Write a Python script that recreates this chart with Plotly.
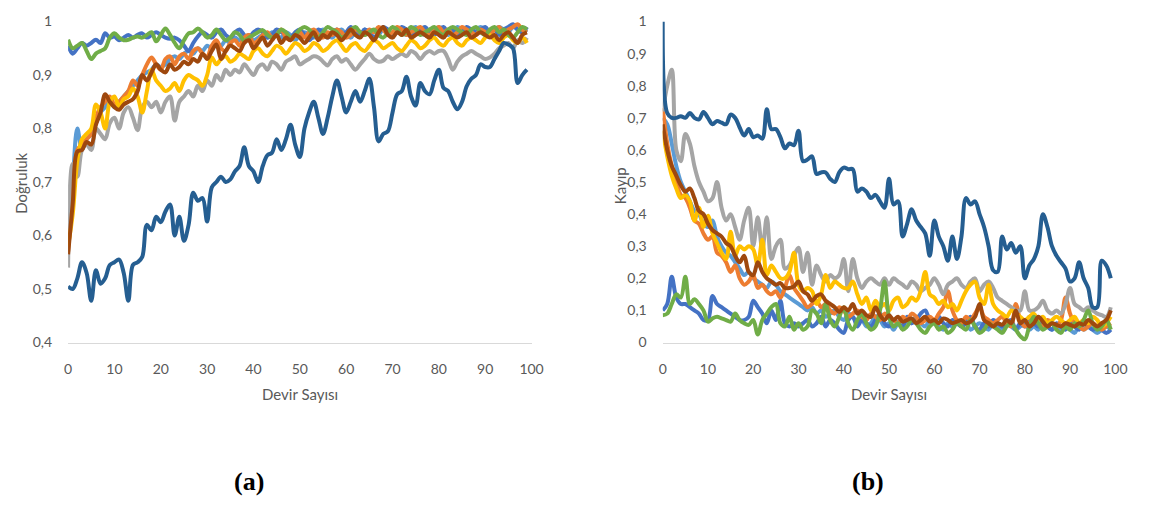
import plotly.graph_objects as go

epochs = list(range(100))

# ---------------- accuracy (Doğruluk) ----------------
acc_blue = [0.955, 0.94, 0.95, 0.96, 0.955, 0.96, 0.966, 0.96, 0.978, 0.97,
            0.972, 0.965, 0.97, 0.975, 0.97, 0.975, 0.978, 0.97, 0.975, 0.98,
            0.975, 0.97, 0.968, 0.97, 0.965, 0.955, 0.945, 0.96, 0.972, 0.98,
            0.975, 0.97, 0.98, 0.985, 0.975, 0.97, 0.98, 0.985, 0.975, 0.97,
            0.98, 0.985, 0.98, 0.97, 0.975, 0.985, 0.98, 0.975, 0.97, 0.98,
            0.985, 0.975, 0.965, 0.975, 0.985, 0.98, 0.97, 0.98, 0.985, 0.975,
            0.98, 0.99, 0.98, 0.975, 0.985, 0.98, 0.97, 0.98, 0.99, 0.985,
            0.975, 0.98, 0.99, 0.985, 0.975, 0.98, 0.985, 0.99, 0.98, 0.975,
            0.985, 0.99, 0.98, 0.985, 0.975, 0.98, 0.99, 0.985, 0.98, 0.985,
            0.99, 0.98, 0.985, 0.975, 0.985, 0.99, 0.995, 0.985, 0.98, 0.99]
acc_orange = [0.57, 0.68, 0.76, 0.77, 0.78, 0.79, 0.82, 0.84, 0.85, 0.86,
              0.845, 0.85, 0.86, 0.87, 0.89, 0.88, 0.90, 0.92, 0.933, 0.92,
              0.91, 0.93, 0.935, 0.92, 0.935, 0.94, 0.93, 0.945, 0.95, 0.94,
              0.935, 0.955, 0.965, 0.95, 0.945, 0.96, 0.965, 0.955, 0.97, 0.975,
              0.96, 0.965, 0.975, 0.98, 0.97, 0.975, 0.985, 0.97, 0.965, 0.975,
              0.98, 0.97, 0.98, 0.985, 0.975, 0.97, 0.98, 0.975, 0.985, 0.98,
              0.97, 0.975, 0.985, 0.98, 0.975, 0.985, 0.98, 0.99, 0.985, 0.975,
              0.98, 0.99, 0.985, 0.975, 0.98, 0.985, 0.99, 0.98, 0.975, 0.985,
              0.99, 0.98, 0.985, 0.975, 0.98, 0.99, 0.985, 0.98, 0.975, 0.985,
              0.98, 0.975, 0.985, 0.99, 0.98, 0.985, 0.99, 0.995, 0.985, 0.98]
acc_gray = [0.54, 0.734, 0.71, 0.76, 0.77, 0.76, 0.80, 0.79, 0.78, 0.81,
            0.82, 0.80, 0.83, 0.84, 0.82, 0.797, 0.84, 0.85, 0.84, 0.85,
            0.83, 0.85, 0.86, 0.815, 0.85, 0.86, 0.87, 0.86, 0.88, 0.87,
            0.89, 0.88, 0.90, 0.89, 0.91, 0.90, 0.91, 0.905, 0.92, 0.91,
            0.90, 0.915, 0.92, 0.91, 0.925, 0.92, 0.91, 0.925, 0.93, 0.935,
            0.92, 0.925, 0.93, 0.935, 0.933, 0.925, 0.918, 0.93, 0.935, 0.925,
            0.93, 0.92, 0.91, 0.92, 0.93, 0.94, 0.93, 0.925, 0.927, 0.935,
            0.93, 0.935, 0.94, 0.935, 0.945, 0.94, 0.93, 0.94, 0.945, 0.94,
            0.945, 0.945, 0.93, 0.91, 0.925, 0.935, 0.94, 0.945, 0.94, 0.935,
            0.93, 0.933, 0.94, 0.95, 0.955, 0.96, 0.95, 0.965, 0.96, 0.97]
acc_yellow = [0.58, 0.64, 0.74, 0.78, 0.79, 0.80, 0.845, 0.83, 0.80, 0.85,
              0.86, 0.84, 0.855, 0.86, 0.875, 0.86, 0.83, 0.87, 0.91, 0.89,
              0.88, 0.87, 0.875, 0.885, 0.87, 0.89, 0.90, 0.895, 0.89, 0.88,
              0.90, 0.933, 0.92, 0.93, 0.935, 0.925, 0.93, 0.94, 0.935, 0.93,
              0.945, 0.95, 0.94, 0.935, 0.945, 0.955, 0.95, 0.94, 0.95, 0.96,
              0.955, 0.945, 0.95, 0.96, 0.955, 0.945, 0.95, 0.96, 0.965, 0.955,
              0.945, 0.955, 0.96, 0.95, 0.945, 0.955, 0.965, 0.96, 0.95, 0.955,
              0.96, 0.95, 0.945, 0.955, 0.965, 0.96, 0.95, 0.955, 0.965, 0.97,
              0.96, 0.955, 0.965, 0.97, 0.96, 0.955, 0.965, 0.97, 0.965, 0.96,
              0.97, 0.975, 0.965, 0.96, 0.97, 0.975, 0.965, 0.96, 0.97, 0.96]
acc_lightblue = [0.58, 0.70, 0.80, 0.76, 0.78, 0.79, 0.81, 0.83, 0.84, 0.85,
                 0.84, 0.85, 0.86, 0.87, 0.88, 0.89, 0.90, 0.905, 0.91, 0.92,
                 0.915, 0.92, 0.93, 0.935, 0.93, 0.94, 0.945, 0.94, 0.95, 0.945,
                 0.955, 0.95, 0.96, 0.955, 0.965, 0.96, 0.97, 0.965, 0.97, 0.975,
                 0.965, 0.97, 0.975, 0.97, 0.98, 0.975, 0.97, 0.98, 0.975, 0.965,
                 0.975, 0.98, 0.975, 0.97, 0.98, 0.985, 0.975, 0.97, 0.98, 0.985,
                 0.975, 0.97, 0.98, 0.975, 0.985, 0.98, 0.97, 0.975, 0.985, 0.98,
                 0.975, 0.985, 0.98, 0.975, 0.985, 0.99, 0.98, 0.975, 0.985, 0.98,
                 0.99, 0.985, 0.975, 0.98, 0.99, 0.985, 0.98, 0.975, 0.985, 0.99,
                 0.985, 0.98, 0.985, 0.99, 0.985, 0.98, 0.99, 0.985, 0.98, 0.985]
acc_green = [0.966, 0.95, 0.955, 0.96, 0.945, 0.93, 0.94, 0.945, 0.95, 0.97,
             0.978, 0.97, 0.965, 0.966, 0.97, 0.972, 0.97, 0.975, 0.98, 0.963,
             0.975, 0.987, 0.975, 0.96, 0.95, 0.965, 0.978, 0.98, 0.987, 0.98,
             0.97, 0.975, 0.985, 0.975, 0.965, 0.97, 0.98, 0.975, 0.964, 0.97,
             0.975, 0.98, 0.984, 0.975, 0.97, 0.975, 0.985, 0.98, 0.97, 0.975,
             0.985, 0.99, 0.985, 0.975, 0.97, 0.98, 0.99, 0.985, 0.98, 0.97,
             0.975, 0.985, 0.99, 0.98, 0.975, 0.98, 0.985, 0.975, 0.97, 0.98,
             0.99, 0.985, 0.975, 0.98, 0.99, 0.985, 0.975, 0.98, 0.985, 0.99,
             0.98, 0.975, 0.985, 0.99, 0.985, 0.98, 0.975, 0.985, 0.99, 0.98,
             0.975, 0.985, 0.99, 0.98, 0.985, 0.975, 0.97, 0.98, 0.99, 0.985]
acc_darkblue = [0.505, 0.50, 0.52, 0.55, 0.53, 0.478, 0.535, 0.51, 0.52, 0.545,
                0.55, 0.555, 0.53, 0.478, 0.545, 0.55, 0.56, 0.62, 0.61, 0.635,
                0.625, 0.645, 0.658, 0.60, 0.635, 0.59, 0.62, 0.68, 0.665, 0.67,
                0.626, 0.69, 0.70, 0.71, 0.70, 0.705, 0.72, 0.73, 0.765, 0.73,
                0.72, 0.70, 0.73, 0.75, 0.755, 0.78, 0.76, 0.78, 0.807, 0.77,
                0.747, 0.80, 0.83, 0.85, 0.82, 0.79, 0.82, 0.86, 0.89, 0.86,
                0.83, 0.85, 0.87, 0.85, 0.87, 0.893, 0.84, 0.776, 0.79, 0.795,
                0.83, 0.864, 0.87, 0.897, 0.86, 0.843, 0.885, 0.87, 0.864, 0.89,
                0.91, 0.876, 0.87, 0.85, 0.836, 0.85, 0.879, 0.893, 0.90, 0.92,
                0.915, 0.915, 0.93, 0.945, 0.96, 0.957, 0.95, 0.885, 0.90, 0.91]
acc_brown = [0.565, 0.66, 0.757, 0.76, 0.775, 0.77, 0.807, 0.83, 0.864, 0.85,
             0.84, 0.835, 0.845, 0.85, 0.855, 0.87, 0.90, 0.89, 0.905, 0.92,
             0.91, 0.905, 0.92, 0.91, 0.915, 0.925, 0.92, 0.93, 0.925, 0.94,
             0.93, 0.945, 0.957, 0.93, 0.945, 0.955, 0.95, 0.945, 0.96, 0.965,
             0.95, 0.96, 0.97, 0.955, 0.965, 0.975, 0.96, 0.97, 0.965, 0.975,
             0.97, 0.96, 0.97, 0.98, 0.965, 0.975, 0.97, 0.98, 0.975, 0.965,
             0.975, 0.985, 0.975, 0.97, 0.98, 0.975, 0.965, 0.98, 0.99, 0.975,
             0.97, 0.98, 0.975, 0.985, 0.97, 0.975, 0.98, 0.975, 0.97, 0.98,
             0.975, 0.97, 0.98, 0.975, 0.97, 0.975, 0.98, 0.97, 0.975, 0.98,
             0.975, 0.97, 0.975, 0.965, 0.975, 0.98, 0.97, 0.96, 0.975, 0.98]

# ---------------- loss (Kayıp) ----------------
loss_blue = [0.10, 0.12, 0.205, 0.14, 0.12, 0.12, 0.11, 0.10, 0.09, 0.07,
             0.07, 0.145, 0.12, 0.11, 0.10, 0.09, 0.08, 0.07, 0.07, 0.08,
             0.13, 0.11, 0.09, 0.06, 0.10, 0.07, 0.13, 0.06, 0.05, 0.06,
             0.05, 0.06, 0.07, 0.05, 0.06, 0.08, 0.05, 0.07, 0.06, 0.04,
             0.03, 0.07, 0.08, 0.05, 0.07, 0.06, 0.05, 0.07, 0.09, 0.06,
             0.05, 0.07, 0.06, 0.05, 0.08, 0.06, 0.07, 0.09, 0.10, 0.07,
             0.06, 0.08, 0.06, 0.05, 0.07, 0.06, 0.05, 0.06, 0.08, 0.05,
             0.04, 0.06, 0.05, 0.07, 0.06, 0.05, 0.06, 0.07, 0.04, 0.06,
             0.05, 0.08, 0.06, 0.05, 0.07, 0.05, 0.04, 0.06, 0.05, 0.04,
             0.06, 0.05, 0.04, 0.06, 0.05, 0.04, 0.05, 0.04, 0.03, 0.04]
loss_orange = [0.73, 0.62, 0.55, 0.50, 0.46, 0.45, 0.42, 0.38, 0.37, 0.34,
               0.32, 0.33, 0.28, 0.27, 0.25, 0.22, 0.24, 0.20, 0.18, 0.19,
               0.21, 0.17, 0.18, 0.16, 0.15, 0.16, 0.14, 0.17, 0.21, 0.17,
               0.15, 0.13, 0.11, 0.12, 0.13, 0.11, 0.12, 0.10, 0.09, 0.11,
               0.10, 0.08, 0.09, 0.10, 0.08, 0.07, 0.09, 0.08, 0.07, 0.09,
               0.08, 0.07, 0.06, 0.08, 0.07, 0.09, 0.08, 0.06, 0.07, 0.08,
               0.07, 0.09, 0.11, 0.16, 0.10, 0.07, 0.06, 0.08, 0.07, 0.09,
               0.11, 0.08, 0.07, 0.06, 0.07, 0.08, 0.06, 0.05, 0.12, 0.07,
               0.05, 0.06, 0.08, 0.06, 0.05, 0.07, 0.06, 0.05, 0.07, 0.14,
               0.09, 0.06, 0.05, 0.04, 0.05, 0.06, 0.05, 0.04, 0.05, 0.06]
loss_gray = [0.72, 0.80, 0.85, 0.60, 0.565, 0.65, 0.62, 0.55, 0.50, 0.47,
             0.44, 0.45, 0.50, 0.42, 0.38, 0.40, 0.36, 0.32, 0.38, 0.42,
             0.30, 0.39, 0.29, 0.39, 0.26, 0.30, 0.32, 0.23, 0.24, 0.27,
             0.295, 0.22, 0.28, 0.18, 0.24, 0.21, 0.19, 0.21, 0.20, 0.21,
             0.26, 0.16, 0.26, 0.20, 0.17, 0.19, 0.20, 0.19, 0.18, 0.20,
             0.18, 0.20, 0.19, 0.18, 0.17, 0.19, 0.18, 0.16, 0.17, 0.18,
             0.20, 0.18, 0.15, 0.18, 0.19, 0.20, 0.18, 0.17, 0.19, 0.20,
             0.16, 0.18, 0.19, 0.17, 0.14, 0.13, 0.12, 0.11, 0.10, 0.10,
             0.16, 0.10, 0.10, 0.11, 0.13, 0.10, 0.09, 0.10, 0.09, 0.12,
             0.17, 0.12, 0.11, 0.10, 0.11, 0.10, 0.09, 0.085, 0.08, 0.11]
loss_yellow = [0.66, 0.58, 0.52, 0.48, 0.45, 0.46, 0.44, 0.38, 0.42, 0.36,
               0.395, 0.34, 0.31, 0.28, 0.26, 0.345, 0.27, 0.30, 0.29, 0.30,
               0.29, 0.24, 0.32, 0.21, 0.24, 0.22, 0.20, 0.20, 0.22, 0.28,
               0.18, 0.16, 0.17, 0.16, 0.12, 0.15, 0.21, 0.17, 0.19, 0.18,
               0.17, 0.17, 0.19, 0.15, 0.12, 0.14, 0.10, 0.13, 0.11, 0.12,
               0.10, 0.13, 0.14, 0.11, 0.12, 0.14, 0.13, 0.16, 0.22, 0.15,
               0.14, 0.12, 0.13, 0.11, 0.12, 0.10, 0.13, 0.16, 0.18, 0.19,
               0.14, 0.12, 0.18, 0.12, 0.10, 0.09, 0.08, 0.10, 0.09, 0.08,
               0.07, 0.08, 0.09, 0.07, 0.08, 0.06, 0.07, 0.08, 0.07, 0.06,
               0.07, 0.08, 0.06, 0.07, 0.06, 0.08, 0.07, 0.05, 0.06, 0.08]
loss_lightblue = [0.70, 0.68, 0.62, 0.55, 0.50, 0.47, 0.44, 0.41, 0.40, 0.37,
                  0.36, 0.38, 0.33, 0.30, 0.28, 0.27, 0.25, 0.23, 0.21, 0.22,
                  0.20, 0.19, 0.18, 0.17, 0.19, 0.18, 0.16, 0.15, 0.14, 0.13,
                  0.12, 0.11, 0.10, 0.11, 0.09, 0.10, 0.08, 0.09, 0.10, 0.08,
                  0.07, 0.09, 0.08, 0.06, 0.07, 0.05, 0.06, 0.08, 0.07, 0.05,
                  0.06, 0.04, 0.06, 0.05, 0.07, 0.06, 0.08, 0.06, 0.05, 0.07,
                  0.06, 0.05, 0.04, 0.06, 0.05, 0.07, 0.05, 0.06, 0.04, 0.05,
                  0.06, 0.05, 0.04, 0.06, 0.05, 0.04, 0.06, 0.05, 0.04, 0.05,
                  0.06, 0.04, 0.05, 0.04, 0.06, 0.05, 0.04, 0.05, 0.04, 0.05,
                  0.04, 0.03, 0.05, 0.04, 0.05, 0.04, 0.03, 0.04, 0.05, 0.04]
loss_green = [0.085, 0.09, 0.12, 0.15, 0.14, 0.205, 0.12, 0.135, 0.12, 0.10,
              0.065, 0.075, 0.08, 0.075, 0.07, 0.065, 0.09, 0.07, 0.06, 0.055,
              0.07, 0.025, 0.07, 0.09, 0.11, 0.12, 0.06, 0.05, 0.08, 0.04,
              0.06, 0.04, 0.05, 0.10, 0.09, 0.06, 0.12, 0.07, 0.05, 0.08,
              0.11, 0.06, 0.04, 0.07, 0.09, 0.06, 0.04, 0.05, 0.10, 0.19,
              0.08, 0.05, 0.06, 0.04, 0.05, 0.07, 0.06, 0.04, 0.03, 0.05,
              0.06, 0.04, 0.05, 0.03, 0.04, 0.06, 0.05, 0.04, 0.07, 0.05,
              0.03, 0.04, 0.06, 0.05, 0.04, 0.03, 0.05, 0.06, 0.04, 0.02,
              0.01, 0.05, 0.08, 0.06, 0.04, 0.05, 0.06, 0.04, 0.03, 0.05,
              0.04, 0.06, 0.05, 0.07, 0.10, 0.06, 0.04, 0.05, 0.07, 0.04]
loss_darkblue = [1.0, 0.715, 0.70, 0.70, 0.705, 0.70, 0.715, 0.70, 0.695, 0.718,
                 0.70, 0.68, 0.69, 0.685, 0.68, 0.71, 0.70, 0.67, 0.645, 0.665,
                 0.64, 0.645, 0.635, 0.727, 0.665, 0.665, 0.64, 0.605, 0.62, 0.615,
                 0.66, 0.565, 0.57, 0.58, 0.525, 0.53, 0.53, 0.51, 0.50, 0.53,
                 0.545, 0.54, 0.54, 0.47, 0.48, 0.47, 0.45, 0.46, 0.44, 0.42,
                 0.51, 0.43, 0.44, 0.33, 0.37, 0.415, 0.38, 0.36, 0.34, 0.27,
                 0.38, 0.33, 0.30, 0.255, 0.33, 0.26, 0.33, 0.45, 0.43, 0.44,
                 0.40, 0.36, 0.30, 0.225, 0.22, 0.33, 0.29, 0.31, 0.28, 0.30,
                 0.20, 0.24, 0.26, 0.30, 0.40, 0.36, 0.30, 0.27, 0.25, 0.23,
                 0.19, 0.20, 0.25, 0.20, 0.17, 0.11, 0.11, 0.255, 0.24, 0.20]
loss_brown = [0.68, 0.60, 0.55, 0.52, 0.49, 0.47, 0.48, 0.45, 0.41, 0.40,
              0.37, 0.35, 0.34, 0.33, 0.31, 0.30, 0.27, 0.25, 0.27, 0.22,
              0.21, 0.25, 0.22, 0.20, 0.19, 0.18, 0.185, 0.17, 0.17, 0.175,
              0.19, 0.16, 0.15, 0.13, 0.145, 0.15, 0.13, 0.12, 0.11, 0.095,
              0.11, 0.10, 0.12, 0.09, 0.10, 0.085, 0.08, 0.11, 0.085, 0.07,
              0.085, 0.07, 0.08, 0.065, 0.07, 0.075, 0.06, 0.07, 0.08, 0.065,
              0.07, 0.06, 0.075, 0.07, 0.06, 0.065, 0.07, 0.06, 0.065, 0.08,
              0.12, 0.07, 0.06, 0.05, 0.06, 0.055, 0.07, 0.06, 0.10, 0.06,
              0.07, 0.05, 0.06, 0.08, 0.065, 0.05, 0.06, 0.055, 0.05, 0.06,
              0.055, 0.05, 0.06, 0.055, 0.07, 0.06, 0.05, 0.06, 0.07, 0.10]

# drawing order: the light-blue run sits underneath the others
series_colors = ["#5B9BD5", "#4472C4", "#ED7D31", "#A5A5A5",
                 "#FFC000", "#70AD47", "#255E91", "#9E480E"]
acc_series = [acc_lightblue, acc_blue, acc_orange, acc_gray,
              acc_yellow, acc_green, acc_darkblue, acc_brown]
loss_series = [loss_lightblue, loss_blue, loss_orange, loss_gray,
               loss_yellow, loss_green, loss_darkblue, loss_brown]

x_ticks = [0, 10, 20, 30, 40, 50, 60, 70, 80, 90, 100]
acc_ticks = [0.4, 0.5, 0.6, 0.7, 0.8, 0.9, 1.0]
acc_tick_text = ["0,4", "0,5", "0,6", "0,7", "0,8", "0,9", "1"]
loss_ticks = [0, 0.1, 0.2, 0.3, 0.4, 0.5, 0.6, 0.7, 0.8, 0.9, 1.0]
loss_tick_text = ["0", "0,1", "0,2", "0,3", "0,4", "0,5", "0,6", "0,7", "0,8", "0,9", "1"]

W, H = 1151, 510
TXT = "#595959"
FONT = "Lato"
LW = 4.0

fig = go.Figure()
for ys, col in zip(acc_series, series_colors):
    fig.add_trace(go.Scatter(x=epochs, y=ys, mode="lines", xaxis="x", yaxis="y",
                             line=dict(color=col, width=LW, shape="spline", smoothing=1.0),
                             showlegend=False, hoverinfo="skip"))
for ys, col in zip(loss_series, series_colors):
    fig.add_trace(go.Scatter(x=epochs, y=ys, mode="lines", xaxis="x2", yaxis="y2",
                             line=dict(color=col, width=LW, shape="spline", smoothing=1.0),
                             showlegend=False, hoverinfo="skip"))


def px_x(p):
    return p / W


def px_y(p):
    return 1 - p / H


xcommon = dict(range=[0, 100], tickvals=x_ticks, showgrid=False, zeroline=False,
               showline=True, linecolor="#d9d9d9", linewidth=1.2, ticks="",
               ticklabelstandoff=14, tickfont=dict(family=FONT, size=14, color=TXT),
               fixedrange=True)
ycommon = dict(showgrid=False, zeroline=False, showline=False, ticks="",
               ticklabelstandoff=15, tickfont=dict(family=FONT, size=14, color=TXT),
               fixedrange=True)

fig.update_layout(
    width=W, height=H,
    margin=dict(l=0, r=0, t=0, b=0),
    paper_bgcolor="white", plot_bgcolor="white",
    xaxis=dict(domain=[px_x(65), px_x(535)], anchor="y", **xcommon),
    yaxis=dict(domain=[px_y(345), px_y(13)], anchor="x", range=[0.4, 1.0],
               tickvals=acc_ticks, ticktext=acc_tick_text, **ycommon),
    xaxis2=dict(domain=[px_x(668), px_x(1127)], anchor="y2", **xcommon),
    yaxis2=dict(domain=[px_y(345), px_y(13)], anchor="x2", range=[0, 1.0],
                tickvals=loss_ticks, ticktext=loss_tick_text, **ycommon),
)

labels = [
    dict(text="Devir Sayısı", x=px_x(300), y=px_y(398), size=15, angle=0, font=FONT, color=TXT),
    dict(text="Devir Sayısı", x=px_x(897), y=px_y(398), size=15, angle=0, font=FONT, color=TXT),
    dict(text="Doğruluk", x=px_x(17), y=px_y(180), size=15, angle=-90, font=FONT, color=TXT),
    dict(text="Kayıp", x=px_x(625), y=px_y(183), size=15, angle=-90, font=FONT, color=TXT),
    dict(text="<b>(a)</b>", x=px_x(248), y=px_y(489), size=26, angle=0,
         font="Liberation Serif", color="#000000"),
    dict(text="<b>(b)</b>", x=px_x(876), y=px_y(489), size=26, angle=0,
         font="Liberation Serif", color="#000000"),
]
for lb in labels:
    fig.add_annotation(text=lb["text"], x=lb["x"], y=lb["y"], xref="paper", yref="paper",
                       xanchor="center", yanchor="middle", showarrow=False,
                       textangle=lb["angle"],
                       font=dict(family=lb["font"], size=lb["size"], color=lb["color"]))

fig.write_html("out.html", config={"displayModeBar": False})
